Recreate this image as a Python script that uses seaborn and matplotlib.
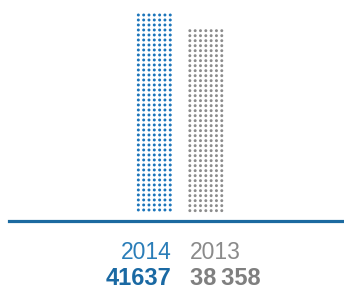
import numpy as np
import pandas as pd
import matplotlib.pyplot as plt
import seaborn as sns

# Values shown in the chart
years = ['2014', '2013']
values = [41637, 38358]
value_labels = ['41637', '38\u2009358']
dot_colors = ['#1b75bb', '#8c8c8c']
year_colors = ['#2a7db8', '#8a8a8a']
number_colors = ['#1a69a3', '#7f7f7f']

sns.set_style('white')
plt.rcParams['font.family'] = ['Liberation Sans', 'DejaVu Sans']

# Each bar is drawn as a grid of dots, counted down from the bar's value
step = 1046          # vertical dot spacing in data units
n_cols = 7
half_width = 0.31
rows = []
for i, (yr, val) in enumerate(zip(years, values)):
    ys = np.arange(val, -1, -step)
    xs = i + np.linspace(-half_width, half_width, n_cols)
    for x in xs:
        for y in ys:
            rows.append({'year': yr, 'x': x, 'y': y})
dots = pd.DataFrame(rows)

fig = plt.figure(figsize=(3.44, 2.90), dpi=100)
ax = fig.add_axes([9 / 344, 69.5 / 290, 335 / 344, 210.5 / 290])

sns.scatterplot(data=dots, x='x', y='y', hue='year', hue_order=years,
                palette=dot_colors, marker='o', s=4.5, linewidth=0,
                legend=False, ax=ax)

ax.set_xlim(-2.821, 3.683)
ax.set_ylim(-1360, 42683)
ax.set_xticks([])
ax.set_yticks([])
ax.set_xlabel('')
ax.set_ylabel('')
for side in ['top', 'left', 'right']:
    ax.spines[side].set_visible(False)
ax.spines['bottom'].set_color('#1c6aa0')
ax.spines['bottom'].set_linewidth(2.3)

# Year and value labels under the baseline (x in data, y in figure fraction)
label_trans = ax.get_xaxis_transform().__class__(ax.transData, fig.transFigure)
for i in range(len(years)):
    ha = 'right' if i == 0 else 'left'
    xpos = i + 0.33 if i == 0 else i - 0.31
    ax.text(xpos, 31 / 290, years[i], transform=label_trans,
            ha=ha, va='baseline', fontsize=16.5, color=year_colors[i], clip_on=False)
    ax.text(xpos, 5 / 290, value_labels[i], transform=label_trans,
            ha=ha, va='baseline', fontsize=17, fontweight='bold', color=number_colors[i], clip_on=False)

fig.savefig('out.png', dpi=100)
